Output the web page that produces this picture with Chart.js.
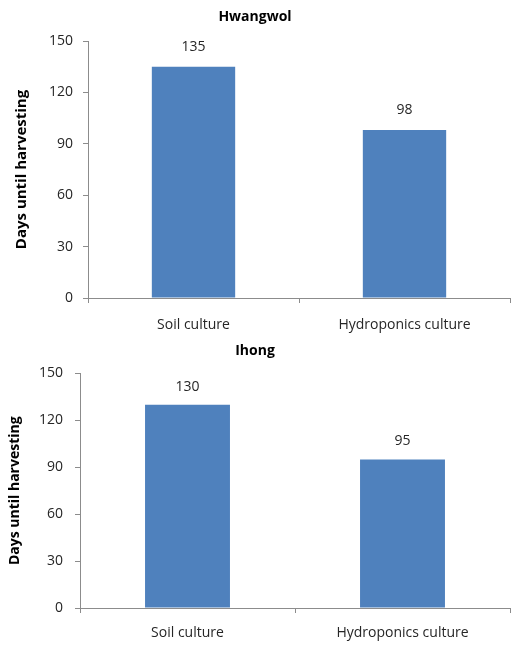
<!DOCTYPE html>
<html>
<head>
<meta charset="utf-8">
<script src="https://cdn.jsdelivr.net/npm/chart.js@4.4.1/dist/chart.umd.min.js"></script>
<style>
  html, body { margin: 0; padding: 0; background: #ffffff; }
  .panel { position: absolute; left: 0; width: 512px; }
  #p1 { top: 0; height: 335px; }
  #p2 { top: 335px; height: 310px; }
</style>
</head>
<body>
<div class="panel" id="p1"><canvas id="c1"></canvas></div>
<div class="panel" id="p2"><canvas id="c2"></canvas></div>
<script>
// Days from planting to harvest, by cultivation method
const categories = ['Soil culture', 'Hydroponics culture'];
const hwangwolDays = [135, 98];
const ihongDays = [130, 95];
const yTicks = [0, 30, 60, 90, 120, 150];
const yAxisTitle = 'Days until harvesting';

const BAR_COLOR = '#4f81bd';
const AXIS_COLOR = '#8c8c8c';
const TEXT_COLOR = '#262626';
const FONT = '"Open Sans", "Noto Sans", sans-serif';

// Prints each bar's value just above it
const valueLabels = {
  id: 'valueLabels',
  afterDatasetsDraw(chart, args, opts) {
    const ctx = chart.ctx;
    ctx.save();
    ctx.font = '14px ' + FONT;
    ctx.fillStyle = TEXT_COLOR;
    ctx.textAlign = 'center';
    ctx.textBaseline = 'middle';
    chart.data.datasets.forEach((ds, di) => {
      chart.getDatasetMeta(di).data.forEach((bar, i) => {
        ctx.fillText(String(ds.data[i]), bar.x, bar.y - opts.offset);
      });
    });
    ctx.restore();
  }
};

function makeChart(id, title, values, cfg) {
  return new Chart(document.getElementById(id), {
    type: 'bar',
    data: {
      labels: categories,
      datasets: [{
        data: values,
        backgroundColor: BAR_COLOR,
        borderWidth: 0,
        categoryPercentage: 1,
        barPercentage: 0.395
      }]
    },
    plugins: [valueLabels],
    options: {
      responsive: true,
      maintainAspectRatio: false,
      animation: false,
      devicePixelRatio: 1,
      layout: { padding: { left: 0, right: 2, top: 0, bottom: 0 } },
      plugins: {
        legend: { display: false },
        tooltip: { enabled: false },
        title: {
          display: true,
          text: title,
          color: '#000000',
          font: { family: FONT, size: 14, weight: 'bold' },
          padding: cfg.titlePad
        },
        valueLabels: { offset: cfg.valueOffset }
      },
      scales: {
        x: {
          grid: {
            display: true,
            offset: true,
            drawOnChartArea: false,
            drawTicks: true,
            tickLength: 5,
            color: AXIS_COLOR
          },
          border: { display: true, color: AXIS_COLOR, width: 1 },
          ticks: {
            color: TEXT_COLOR,
            font: { family: FONT, size: 14 },
            padding: cfg.xTickPad,
            maxRotation: 0
          },
          afterFit: s => { s.height = cfg.xHeight; }
        },
        y: {
          min: 0,
          max: 150,
          afterBuildTicks: s => { s.ticks = yTicks.map(v => ({ value: v })); },
          grid: {
            display: true,
            drawOnChartArea: false,
            drawTicks: true,
            tickLength: 5,
            color: AXIS_COLOR
          },
          border: { display: true, color: AXIS_COLOR, width: 1 },
          ticks: {
            color: TEXT_COLOR,
            font: { family: FONT, size: 14 },
            padding: cfg.yTickPad
          },
          title: {
            display: true,
            text: yAxisTitle,
            color: '#000000',
            font: { family: FONT, size: cfg.yTitleSize, weight: 'bold' },
            padding: { top: cfg.yTitleTop, bottom: 0 }
          },
          afterFit: s => { s.width = cfg.yWidth; }
        }
      }
    }
  });
}

makeChart('c1', 'Hwangwol', hwangwolDays, {
  titlePad: { top: 9, bottom: 15.2 },
  xHeight: 37, xTickPad: 14, yWidth: 88, yTickPad: 10,
  yTitleSize: 15, yTitleTop: 13, valueOffset: 20
});

makeChart('c2', 'Ihong', ihongDays, {
  titlePad: { top: 8, bottom: 13.7 },
  xHeight: 37, xTickPad: 12, yWidth: 80, yTickPad: 12,
  yTitleSize: 14, yTitleTop: 7, valueOffset: 18
});
</script>
</body>
</html>
